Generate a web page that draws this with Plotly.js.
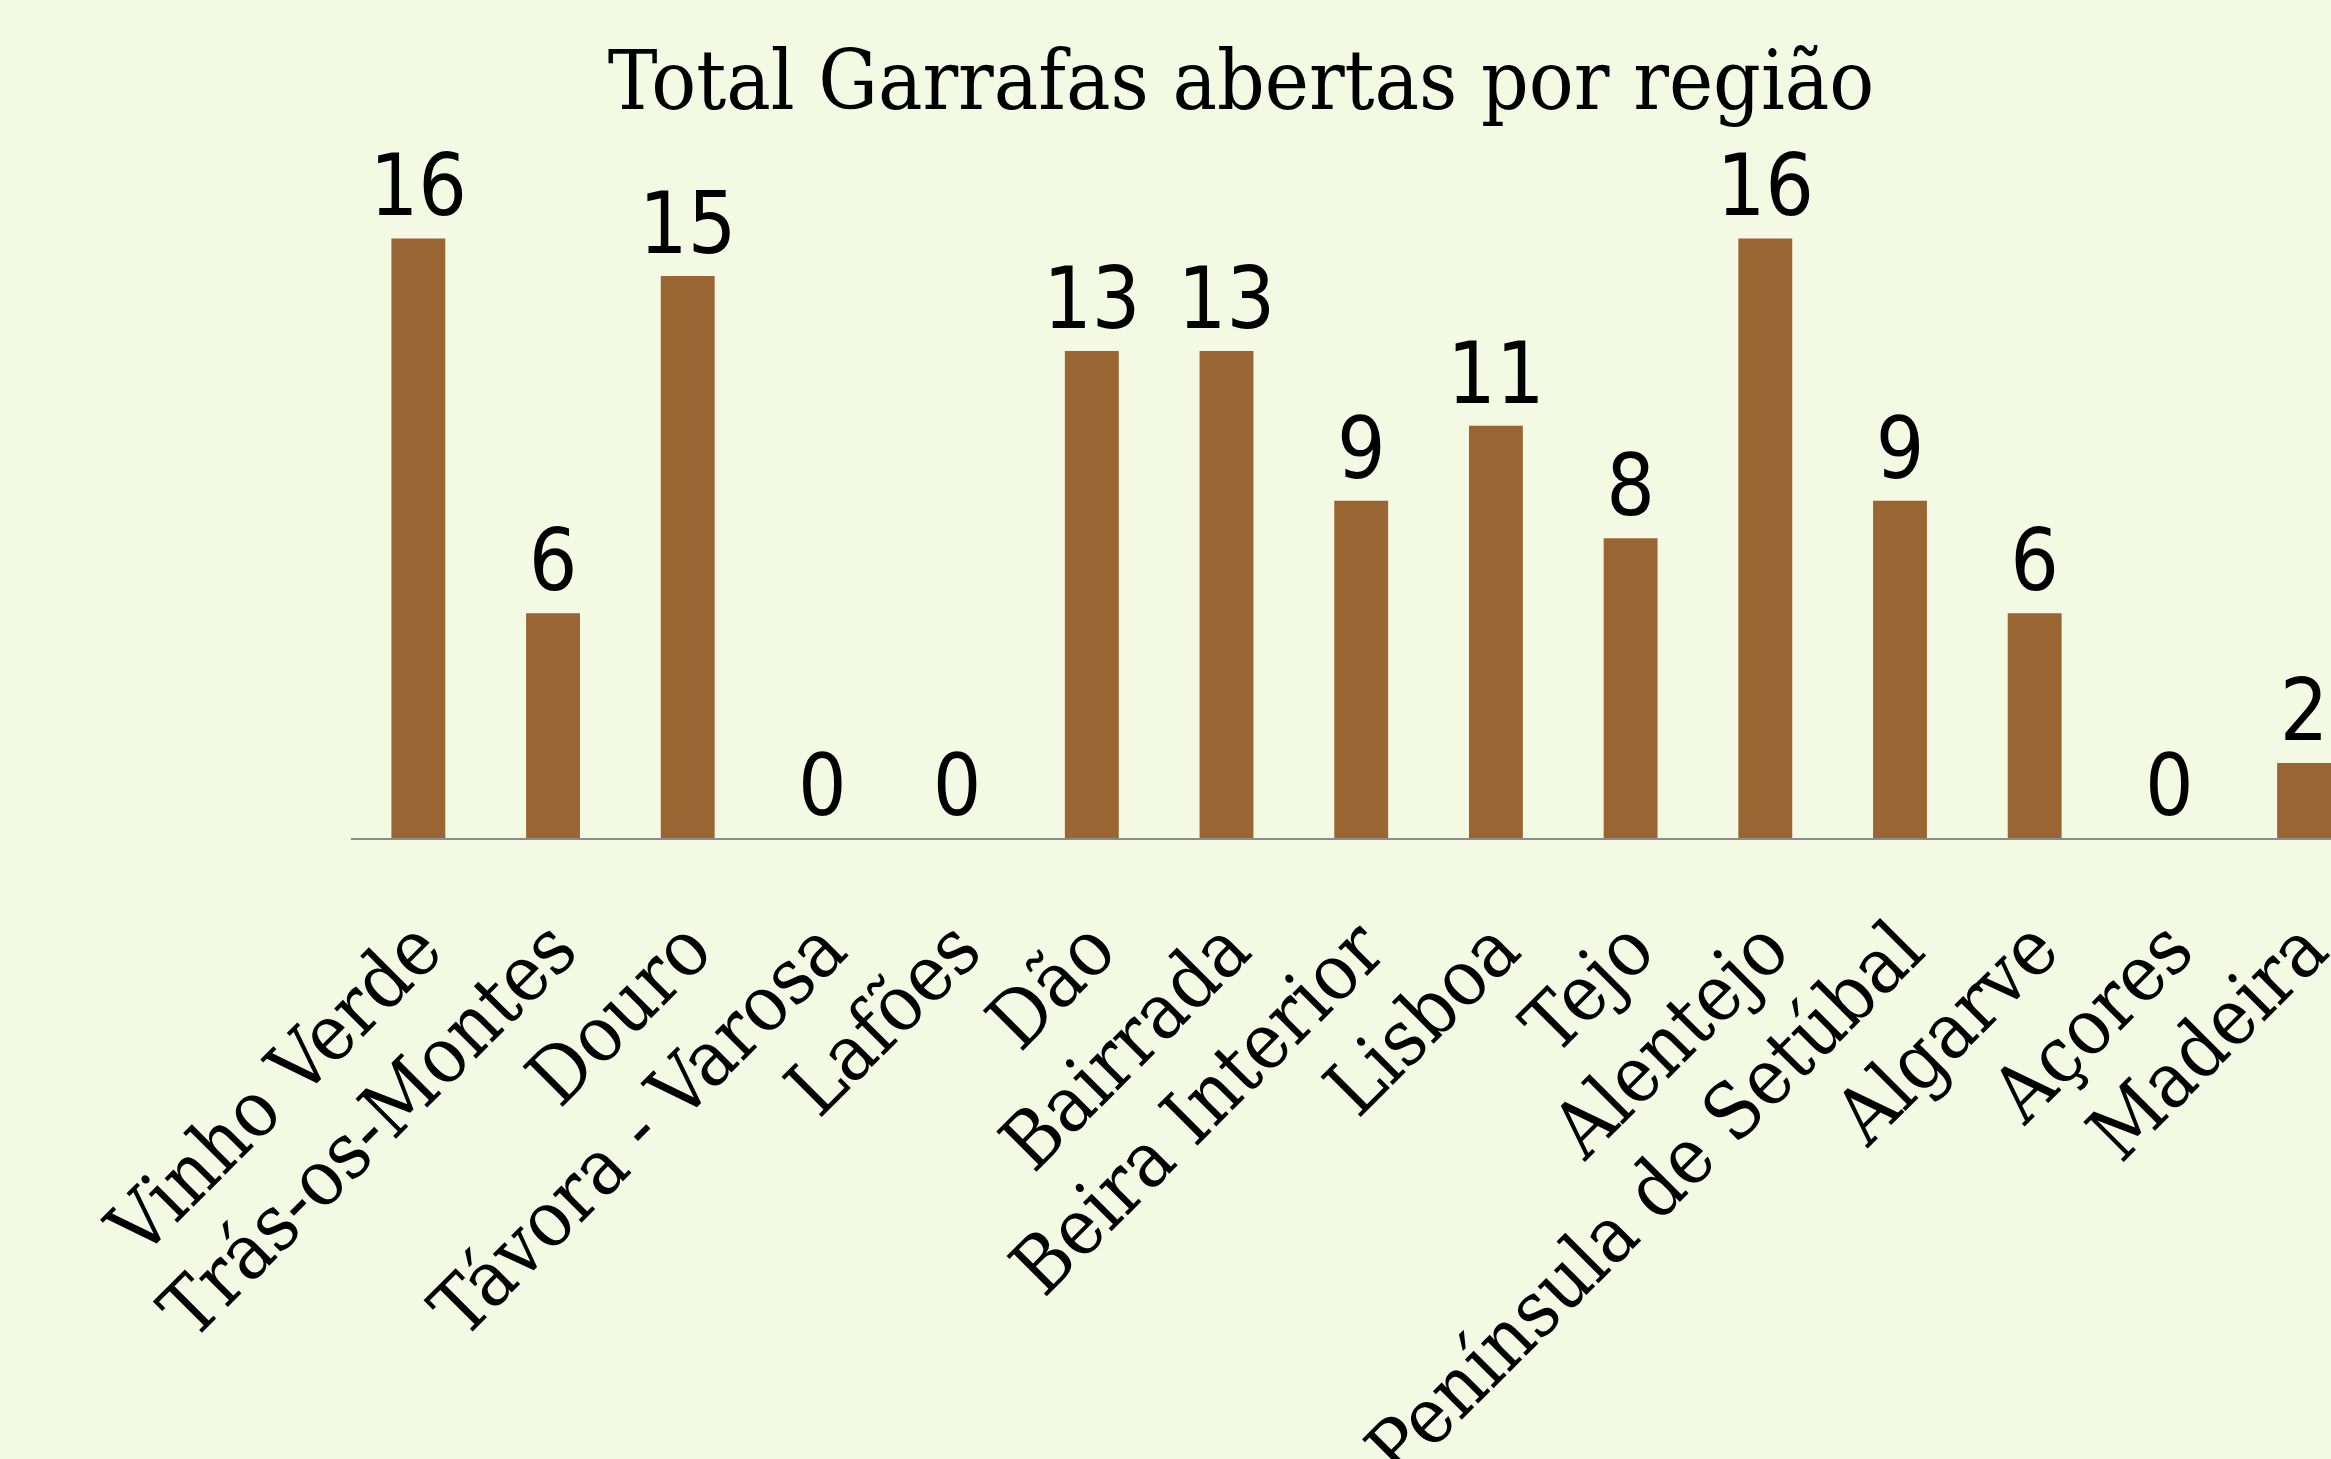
<!DOCTYPE html>
<html>
<head>
<meta charset="utf-8">
<script src="https://cdn.plot.ly/plotly-3.0.1.min.js"></script>
<style>html,body{margin:0;padding:0;background:#F3F9E3;}</style>
</head>
<body>
<div id="chart" style="width:2331px;height:1459px;"></div>
<script>
const regions = ["Vinho Verde","Trás-os-Montes","Douro","Távora - Varosa","Lafões","Dão","Bairrada","Beira Interior","Lisboa","Tejo","Alentejo","Península de Setúbal","Algarve","Açores","Madeira"];
const bottles = [16,6,15,0,0,13,13,9,11,8,16,9,6,0,2];
const chartTitle = "Total Garrafas abertas por região";

const trace = {
  type: 'bar',
  x: regions,
  y: bottles,
  marker: {color: '#996633'},
  text: bottles.map(String),
  textposition: 'outside',
  textfont: {family: 'DejaVu Sans Condensed', size: 85, color: '#000000'},
  constraintext: 'none',
  cliponaxis: false,
  hoverinfo: 'none'
};

const layout = {
  width: 2331, height: 1459,
  paper_bgcolor: '#F3F9E3', plot_bgcolor: '#F3F9E3',
  margin: {l: 351, r: 0, t: 200, b: 620.5, pad: 0},
  bargap: 0.6,
  showlegend: false,
  title: {
    text: chartTitle,
    font: {family: 'DejaVu Serif Condensed', size: 83, color: '#000000'},
    x: 0.5324, xanchor: 'center', xref: 'container',
    y: 0.965, yanchor: 'top', yref: 'container'
  },
  xaxis: {
    type: 'category',
    range: [-0.5, 14.2],
    showline: true, linecolor: '#8C8C8C', linewidth: 2,
    ticks: '', tickangle: -45,
    tickfont: {family: 'DejaVu Serif Condensed', size: 78, color: '#000000'},
    ticklabelstandoff: 32,
    showgrid: false, zeroline: false, fixedrange: true
  },
  yaxis: {
    range: [0, 17.027],
    visible: false, showgrid: false, zeroline: false, fixedrange: true
  }
};

Plotly.newPlot('chart', [trace], layout, {displayModeBar: false, staticPlot: true});
</script>
</body>
</html>
